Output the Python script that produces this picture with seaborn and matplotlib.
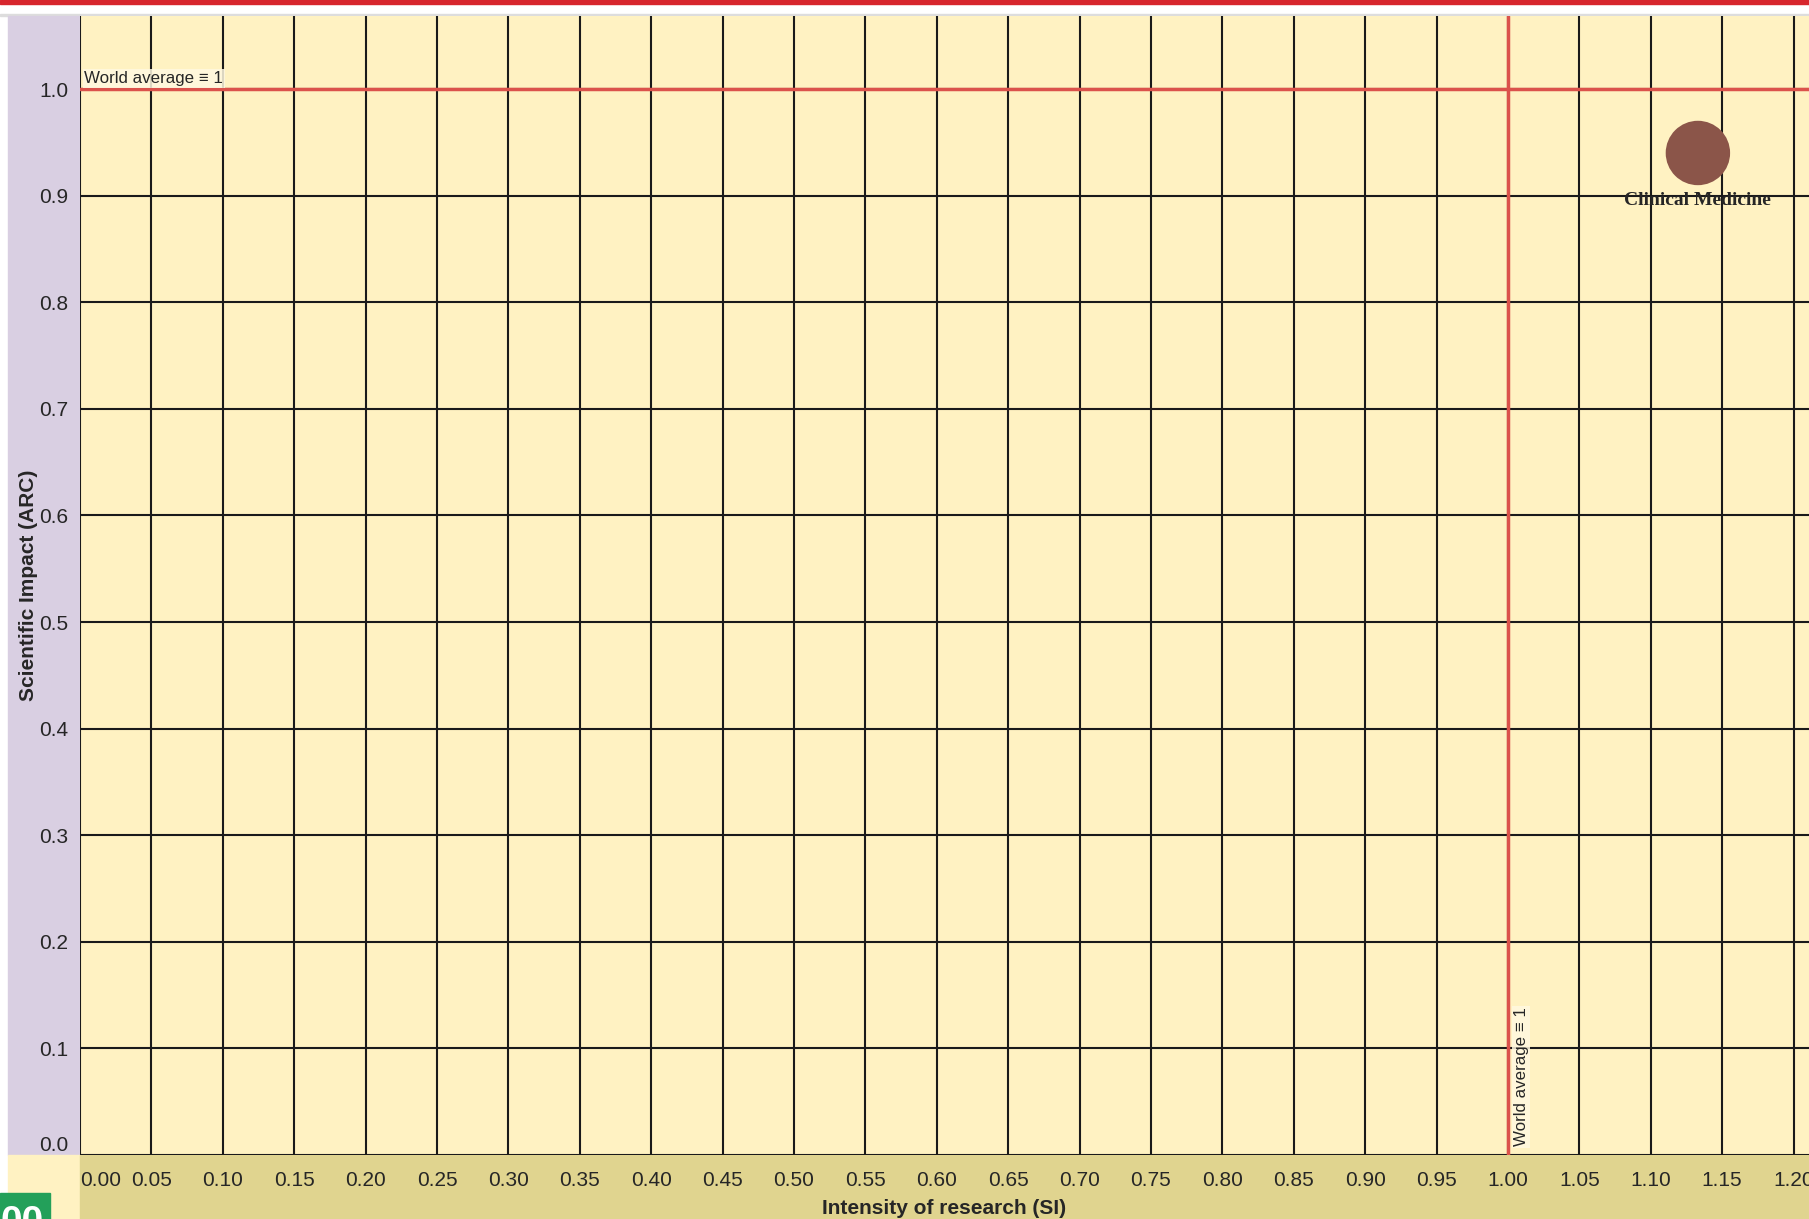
import pandas as pd
import seaborn as sns
import matplotlib.pyplot as plt
import matplotlib.transforms as mtransforms
from matplotlib.patches import Rectangle

# data
fields = ['Clinical Medicine']
si = [1.133]
arc = [0.94]
x_ticks = [0.00, 0.05, 0.10, 0.15, 0.20, 0.25, 0.30, 0.35, 0.40, 0.45, 0.50, 0.55,
           0.60, 0.65, 0.70, 0.75, 0.80, 0.85, 0.90, 0.95, 1.00, 1.05, 1.10, 1.15, 1.20]
y_ticks = [0.0, 0.1, 0.2, 0.3, 0.4, 0.5, 0.6, 0.7, 0.8, 0.9, 1.0]
world_avg = 1.0

df = pd.DataFrame({'field': fields, 'SI': si, 'ARC': arc})

sns.set_style('white')
plt.rcParams['font.family'] = ['Liberation Sans', 'DejaVu Sans']

W, H = 1809, 1219
fig = plt.figure(figsize=(W / 100, H / 100), dpi=100)
fig.patch.set_facecolor('white')

# background bands (pixel coords -> figure fraction)
def band(x0, y0, x1, y1, color):
    fig.patches.append(Rectangle((x0 / W, 1 - y1 / H), (x1 - x0) / W, (y1 - y0) / H,
                                 transform=fig.transFigure, color=color, zorder=-1))

band(0, 0, W, 4, '#D7262D')
band(0, 14, W, 16, '#DDDDDD')
band(8, 16, 80, 1155, '#D9CFE2')
band(8, 1155, 80, H, '#FFF2C2')
band(80, 1155, W, H, '#E0D48F')
band(0, 1193, 50, H, '#23A05A')
fig.text(0 / W, 1 - 1205 / H, '00', color='white', fontsize=28, fontweight='bold',
         ha='left', va='top')

ax = fig.add_axes([80 / W, 1 - 1155 / H, (W - 80) / W, (1155 - 16) / H])
ax.set_facecolor('#FFF2C2')

sns.scatterplot(data=df, x='SI', y='ARC', s=2150, color='#8B5549', edgecolor='none',
                ax=ax, zorder=5, legend=False)
for _, r in df.iterrows():
    ax.annotate(r['field'], (r['SI'], r['ARC']), xytext=(0, -34), textcoords='offset points',
                ha='center', va='center', fontsize=14, fontweight='bold',
                family=['Liberation Serif', 'DejaVu Serif'], zorder=6)

ax.set_xlim(0, 1.2108)
ax.set_ylim(0, 1.0685)
ax.set_xticks(x_ticks)
ax.set_yticks(y_ticks)
ax.set_xticklabels([f'{v:.2f}' for v in x_ticks], fontsize=15)
ax.set_yticklabels([f'{v:.1f}' for v in y_ticks], fontsize=15)
first = ax.get_xticklabels()[0]
first.set_ha('left')
first.set_transform(first.get_transform() + mtransforms.ScaledTranslation(4 / 100, 0, fig.dpi_scale_trans))
ax.get_yticklabels()[0].set_va('bottom')
ax.tick_params(axis='x', length=4.5, width=1, color='#CCCCCC', pad=6.7)
ax.tick_params(axis='y', length=6, width=1, color='#CCCCCC', pad=2.5)
ax.grid(True, color='#1A1A1A', linewidth=1.5)
ax.set_axisbelow(True)
for s in ax.spines.values():
    s.set_visible(False)

ax.axhline(world_avg, color='#DB524B', linewidth=2.5, zorder=3)
ax.axvline(world_avg, color='#DB524B', linewidth=2.5, zorder=3)
ax.text(0.003, world_avg + 0.003, 'World average \u2261 1', fontsize=12.2, ha='left', va='bottom',
        bbox=dict(boxstyle='square,pad=0.1', fc='#FFF8E0', ec='none', alpha=0.85), zorder=4)
ax.text(world_avg + 0.004, 0.008, 'World average \u2261 1', fontsize=12.2, rotation=90,
        ha='left', va='bottom',
        bbox=dict(boxstyle='square,pad=0.1', fc='#FFF8E0', ec='none', alpha=0.85), zorder=4)

ax.set_xlabel('Intensity of research (SI)', fontsize=15, fontweight='bold', labelpad=6.8)
ax.set_ylabel('Scientific Impact (ARC)', fontsize=15, fontweight='bold', va='center')
ax.yaxis.set_label_coords(-51 / (W - 80), 0.5)

fig.savefig('out.png', dpi=100, facecolor=fig.get_facecolor())
